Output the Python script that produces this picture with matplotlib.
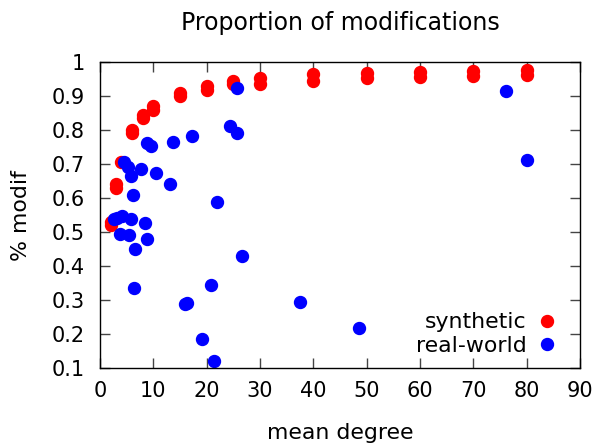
import matplotlib.pyplot as plt

# synthetic networks: two runs per mean degree
syn_x = [2, 2, 3, 3, 4, 6, 6, 8, 8, 10, 10, 15, 15, 20, 20, 25, 25,
         30, 30, 40, 40, 50, 50, 60, 60, 70, 70, 80, 80]
syn_y = [0.52, 0.53, 0.63, 0.64, 0.707, 0.79, 0.80, 0.835, 0.845, 0.86, 0.87,
         0.90, 0.91, 0.918, 0.93, 0.935, 0.943, 0.936, 0.953, 0.943, 0.966,
         0.952, 0.969, 0.957, 0.971, 0.959, 0.974, 0.962, 0.978]

# real-world networks
real_x = [25.6, 24.4, 25.6, 17.2, 13.7, 8.75, 9.5, 4.56, 5.3, 5.75, 7.7, 10.5,
          13.1, 6.25, 22.0, 2.6, 3.2, 4.06, 5.75, 8.4, 3.75, 5.5, 8.9, 6.6,
          26.6, 6.4, 20.8, 16.0, 16.4, 19.1, 21.3, 37.6, 48.6, 76.1, 80.0]
real_y = [0.925, 0.812, 0.792, 0.782, 0.765, 0.761, 0.753, 0.707, 0.690, 0.665,
          0.685, 0.673, 0.641, 0.609, 0.587, 0.537, 0.540, 0.547, 0.538, 0.526,
          0.494, 0.490, 0.481, 0.449, 0.429, 0.335, 0.345, 0.290, 0.292, 0.186,
          0.120, 0.293, 0.218, 0.916, 0.712]

x_ticks = list(range(0, 91, 10))
y_ticks = [0.1, 0.2, 0.3, 0.4, 0.5, 0.6, 0.7, 0.8, 0.9, 1.0]
y_labels = ["0.1", "0.2", "0.3", "0.4", "0.5", "0.6", "0.7", "0.8", "0.9", "1"]

plt.rcParams["font.family"] = "DejaVu Sans"
plt.rcParams["font.size"] = 15

fig = plt.figure(figsize=(5.99, 4.43), dpi=100)
ax = fig.add_axes([0.167, 0.169, 0.801, 0.691])

ax.plot(syn_x, syn_y, "o", color="#ff0000", markersize=8.6, label="synthetic")
ax.plot(real_x, real_y, "o", color="#0000ff", markersize=8.6, label="real-world")

ax.set_xlim(0, 90)
ax.set_ylim(0.1, 1.0)
ax.set_xticks(x_ticks)
ax.set_yticks(y_ticks)
ax.set_yticklabels(y_labels)
ax.tick_params(direction="in", top=True, right=True, length=7, width=1,
               color="#444444", labelsize=15)
ax.tick_params(axis="y", pad=11)
ax.tick_params(axis="x", pad=9)
for s in ax.spines.values():
    s.set_linewidth(1)

ax.set_title("Proportion of modifications", fontsize=17, pad=23)
ax.set_xlabel("mean degree", fontsize=15.8, labelpad=16)
ax.set_ylabel("% modif", fontsize=15.8, labelpad=15)

leg = ax.legend(loc="lower right", frameon=False, markerfirst=False,
                handletextpad=0.53, borderaxespad=0, labelspacing=0.15,
                handlelength=0.8, fontsize=15.8, bbox_to_anchor=(0.968, 0.012))
for t in leg.get_texts():
    t.set_ha("right")
leg._legend_box.align = "right"

plt.savefig("out.png", dpi=100)
